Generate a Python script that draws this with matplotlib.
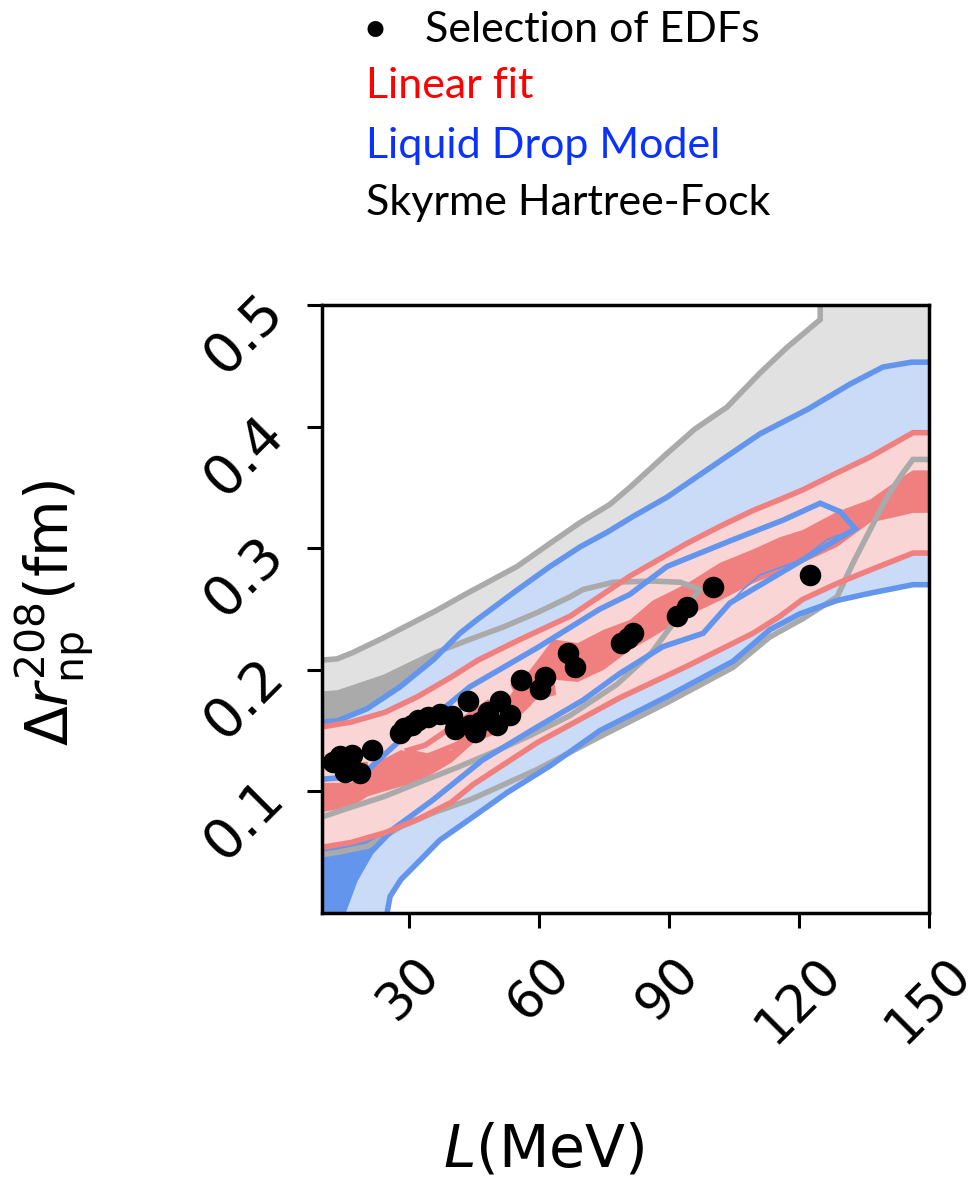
import numpy as np
import matplotlib
matplotlib.use("Agg")
import matplotlib.pyplot as plt

# ---------------- data ----------------
# Skyrme Hartree-Fock (gray) contours
GU_L = [10, 13.5, 17, 24, 30, 36.5, 43, 55, 62.6, 69.5, 76.4, 81, 89.6, 96, 103.4, 111, 117.2, 124.9, 124.9]
GU_v = [0.208, 0.209, 0.214, 0.226, 0.237, 0.249, 0.262, 0.285, 0.304, 0.321, 0.336, 0.350, 0.378, 0.398, 0.416, 0.444, 0.465, 0.488, 0.5]
GL_L = [10, 13.7, 20.6, 28.2, 36.1, 44.1, 59.6, 74.1, 89.6, 104.8, 113.3, 120.9, 128.8, 132.5, 136.4, 140.3, 144.0, 146.3, 150]
GL_v = [0.048, 0.050, 0.055, 0.071, 0.083, 0.093, 0.118, 0.145, 0.173, 0.202, 0.227, 0.242, 0.260, 0.288, 0.315, 0.342, 0.362, 0.373, 0.373]
GIU_L = [10, 13.7, 24.5, 36.1, 44.1, 51.7, 59.6, 67.2, 70.2, 77.1, 86.3, 92.6, 96.5, 97.2]
GIU_v = [0.180, 0.181, 0.194, 0.214, 0.225, 0.235, 0.247, 0.260, 0.266, 0.272, 0.273, 0.272, 0.267, 0.266]
GIL_L = [10, 16.7, 24.5, 32.1, 41.4, 50, 58, 67, 78, 86, 92, 97.2]
GIL_v = [0.079, 0.087, 0.096, 0.107, 0.120, 0.133, 0.146, 0.162, 0.188, 0.214, 0.243, 0.266]

# Liquid Drop Model (blue) contours
BU_L = [10, 13.5, 20.4, 28, 35.6, 41.8, 45.7, 54, 62.6, 69.5, 75.7, 81.7, 89.6, 101.1, 111, 121.9, 131.8, 139.4, 146, 150]
BU_v = [0.157, 0.158, 0.168, 0.186, 0.208, 0.230, 0.241, 0.263, 0.285, 0.301, 0.313, 0.326, 0.342, 0.370, 0.394, 0.414, 0.435, 0.449, 0.453, 0.453]
BL_L = [25.0, 25.7, 28.2, 32.1, 37.2, 44.8, 52.7, 62.6, 74.1, 89.6, 104.8, 113.3, 120.2, 128.8, 136.4, 146.3, 150]
BL_v = [0.0, 0.0136, 0.0275, 0.0415, 0.060, 0.079, 0.099, 0.121, 0.150, 0.178, 0.207, 0.233, 0.246, 0.257, 0.263, 0.270, 0.270]
BIU_L = [10, 16.7, 21.3, 28, 35.6, 44.1, 59.6, 74.1, 81, 89.6, 104.8, 116.3, 124.9, 129.5, 133]
BIU_v = [0.110, 0.112, 0.120, 0.142, 0.161, 0.186, 0.218, 0.250, 0.262, 0.285, 0.307, 0.323, 0.337, 0.330, 0.316]
BIL_L = [133, 126.5, 120.2, 111, 107.1, 104.1, 97.9, 88.6, 78.7, 70.2, 58.7, 47.1, 35.6, 26.4, 21.3, 17.6, 14.8]
BIL_v = [0.316, 0.307, 0.290, 0.278, 0.266, 0.255, 0.230, 0.219, 0.197, 0.175, 0.151, 0.126, 0.093, 0.069, 0.050, 0.027, 0.0]

# Linear fit (red) contours
RU_L = [10, 16.7, 24.5, 32.1, 39.8, 46.0, 55.7, 67.2, 81.0, 94.2, 101.8, 109.4, 115.6, 120.9, 128.8, 136.4, 146.3, 150]
RU_v = [0.153, 0.157, 0.165, 0.178, 0.194, 0.208, 0.225, 0.244, 0.277, 0.304, 0.318, 0.331, 0.340, 0.348, 0.362, 0.375, 0.395, 0.395]
RL_L = [10, 16.7, 24.5, 32.1, 39.8, 45, 59.6, 78.7, 94.2, 109.4, 115.6, 120.9, 128.8, 136.4, 146.3, 150]
RL_v = [0.054, 0.058, 0.066, 0.077, 0.091, 0.106, 0.140, 0.177, 0.203, 0.230, 0.244, 0.258, 0.271, 0.282, 0.296, 0.296]
RI_L = [10, 16.7, 20.6, 28.2, 32, 40, 45, 52, 58, 63.3, 69, 75, 81, 86.3, 94.2, 101.8, 109.4, 115.6, 120.9, 128.8, 136.4, 144, 146.3, 150]
RI_lo = [0.083, 0.087, 0.096, 0.104, 0.107, 0.124, 0.140, 0.150, 0.170, 0.192, 0.190, 0.200, 0.216, 0.227, 0.244, 0.257, 0.271, 0.280, 0.288, 0.301, 0.321, 0.327, 0.329, 0.329]
RI_up = [0.107, 0.107, 0.120, 0.134, 0.130, 0.134, 0.165, 0.173, 0.200, 0.225, 0.222, 0.233, 0.241, 0.257, 0.271, 0.288, 0.299, 0.309, 0.315, 0.330, 0.340, 0.359, 0.364, 0.364]
# small red contour outlines near the data points
RA_L = [10, 20.6]
RA_v = [0.121, 0.122]
RB_L = [29.1, 33.8, 48.3, 53.8, 49.2, 40.7, 34.4, 29.1]
RB_v = [0.133, 0.138, 0.173, 0.163, 0.152, 0.138, 0.129, 0.133]
RC_L = [54.0, 62.6, 63.3, 55.7, 54.0]
RC_v = [0.189, 0.200, 0.181, 0.174, 0.189]

# Selection of EDFs
EDF_L = [12.5, 14.2, 16.9, 21.5, 15.3, 18.8, 28.0, 28.9, 30.8, 32.1, 34.4, 37.2, 40.0, 43.7,
         40.7, 44.1, 45.3, 46.4, 48.3, 51.1, 50.4, 53.4, 55.9, 60.3, 61.4, 66.7, 68.3,
         79.0, 80.6, 81.7, 91.9, 94.2, 100.2, 122.5]
EDF_v = [0.124, 0.129, 0.130, 0.134, 0.116, 0.115, 0.148, 0.152, 0.155, 0.159, 0.161, 0.164, 0.162, 0.174,
         0.151, 0.155, 0.149, 0.157, 0.165, 0.174, 0.155, 0.163, 0.192, 0.184, 0.194, 0.214, 0.202,
         0.222, 0.226, 0.230, 0.244, 0.252, 0.268, 0.278]

xticks = [30, 60, 90, 120, 150]
yticks = [0.1, 0.2, 0.3, 0.4, 0.5]
legend_items = ["Selection of EDFs", "Linear fit", "Liquid Drop Model", "Skyrme Hartree-Fock"]

# ---------------- styling ----------------
GRAY, GRAY_L = "#aaaaaa", "#e1e1e1"
BLUE, BLUE_L = "#6495ed", "#c9dbf6"
RED, RED_L = "#f08080", "#f9d5d5"
LW = 4.0

W, H = 979, 1180
fig = plt.figure(figsize=(W / 100, H / 100), dpi=100)
ax = fig.add_axes([322 / W, 1 - 913 / H, 607 / W, 608 / H])


def cat(*parts):
    return np.concatenate([np.asarray(p, float) for p in parts])


# gray fills
ax.fill(cat(GU_L, [150], GL_L[::-1]), cat(GU_v, [0.5], GL_v[::-1]), color=GRAY_L, lw=0, zorder=1)
ax.fill(cat(GIU_L, GIL_L[::-1]), cat(GIU_v, GIL_v[::-1]), color=GRAY, lw=0, zorder=1.1)
# blue fills
ax.fill(cat(BU_L, BL_L[::-1], [10]), cat(BU_v, BL_v[::-1], [0]), color=BLUE_L, lw=0, zorder=2)
ax.fill(cat(BIU_L, BIL_L, [10]), cat(BIU_v, BIL_v, [0]), color=BLUE, lw=0, zorder=2.1)
# red fills
ax.fill(cat(RU_L, RL_L[::-1]), cat(RU_v, RL_v[::-1]), color=RED_L, lw=0, zorder=3)
ax.fill(cat(RI_L, RI_L[::-1]), cat(RI_up, RI_lo[::-1]), color=RED, lw=0, zorder=3.1)

# contour lines
kw = dict(lw=LW, solid_joinstyle="miter", solid_capstyle="butt")
ax.plot(GU_L, GU_v, color=GRAY, zorder=4, **kw)
ax.plot(GL_L, GL_v, color=GRAY, zorder=4, **kw)
ax.plot(cat(GIU_L, GIL_L[::-1]), cat(GIU_v, GIL_v[::-1]), color=GRAY, zorder=4, **kw)
ax.plot(BU_L, BU_v, color=BLUE, zorder=4.5, **kw)
ax.plot(BL_L, BL_v, color=BLUE, zorder=4.5, **kw)
ax.plot(cat(BIU_L, BIL_L[5:]), cat(BIU_v, BIL_v[5:]), color=BLUE, zorder=4.5, **kw)
ax.plot(BIL_L[:6], BIL_v[:6], color=BLUE, lw=1.2, zorder=4.5)
ax.plot(RU_L, RU_v, color=RED, zorder=5, **kw)
ax.plot(RL_L, RL_v, color=RED, zorder=5, **kw)
ax.plot(RA_L, RA_v, color=RED, zorder=5, **kw)
ax.plot(RB_L, RB_v, color=RED, zorder=5, **kw)
ax.plot(RC_L, RC_v, color=RED, zorder=5, **kw)

# points
ax.plot(EDF_L, EDF_v, "o", color="black", ms=15.5, mew=0, zorder=6)

ax.set_xlim(10, 150)
ax.set_ylim(0, 0.5)
ax.set_xticks(xticks)
ax.set_yticks(yticks)
ax.set_xticklabels([str(t) for t in xticks], rotation=45, fontsize=37)
ax.set_yticklabels([f"{t:.1f}" for t in yticks], rotation=45, fontsize=40)
ax.tick_params(axis="both", length=11, width=2.2, direction="out")
ax.tick_params(axis="x", pad=15)
ax.tick_params(axis="y", pad=9)
for s in ax.spines.values():
    s.set_linewidth(2.5)
    s.set_zorder(10)

ax.set_xlabel(r"$L$(MeV)", fontsize=42)
ax.xaxis.set_label_coords((544 - 322) / 607, (913 - 1150) / 608)
ax.xaxis.label.set_va("center")
ax.set_ylabel(r"$\Delta r_{\rm np}^{208}$(fm)", fontsize=42)
ax.yaxis.set_label_coords((55 - 322) / 607, (913 - 613) / 608)
ax.yaxis.label.set_va("center")

# legend-like text block
LF = ["Lato", "DejaVu Sans"]
fs = 31
fig.text(375 / W, 1 - 30 / H, "\u2022", fontsize=fs, va="center", ha="center", family=LF)
fig.text(425 / W, 1 - 30 / H, legend_items[0], fontsize=fs, va="center", ha="left", family=LF)
fig.text(366 / W, 1 - 86 / H, legend_items[1], fontsize=fs, va="center", ha="left", family=LF, color="#ff0000")
fig.text(366 / W, 1 - 146 / H, legend_items[2], fontsize=fs, va="center", ha="left", family=LF, color="#0a32ff")
fig.text(366 / W, 1 - 203 / H, legend_items[3], fontsize=fs, va="center", ha="left", family=LF, color="black")

fig.savefig("out.png", dpi=100)
